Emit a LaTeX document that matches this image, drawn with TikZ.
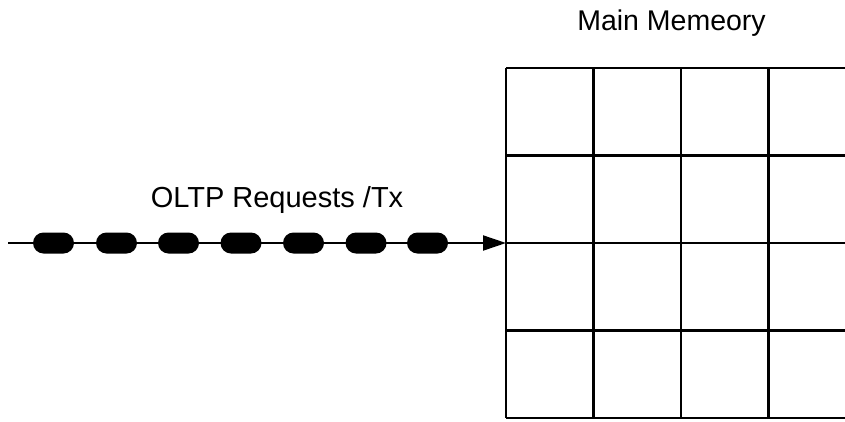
\documentclass[tikz,border=0pt]{standalone}
\usepackage{fontspec}
\setmainfont{Liberation Sans}
\usetikzlibrary{arrows.meta}
\begin{document}
\begin{tikzpicture}[x=1pt,y=-1pt,
  label text/.style={font=\fontsize{29}{34}\selectfont, inner sep=0pt, anchor=base},
  request/.style={fill=black, draw=none, minimum width=41pt, minimum height=21pt,
                  rounded corners=10.5pt, inner sep=0pt},
  flow/.style={line width=2pt, -{Triangle[length=23pt,width=15pt]}},
  cell line/.style={line width=2.7pt}]
  \useasboundingbox (0,0) rectangle (845,421);

  % main memory grid (right side runs off the page)
  \begin{scope}
    \clip (0,0) rectangle (845,421);
    \foreach \i in {0,...,4} {
      \draw[cell line] (506,68+87.5*\i) -- (860,68+87.5*\i);
      \draw[cell line] (506+87.5*\i,68) -- (506+87.5*\i,418);
    }
  \end{scope}
  \coordinate (mem) at (506,243);
  \node[label text, font=\fontsize{28.5}{34}\selectfont] (memtitle) at (671.5,30) {Main Memeory};

  % incoming request stream
  \coordinate (src) at (8,243);
  \foreach \k/\cx in {1/53.5,2/116.5,3/178.5,4/241,5/303.5,6/366,7/427.5}
    \node[request] (r\k) at (\cx,243) {};
  \draw[flow] (src) -- (mem);
  \node[label text] (reqlabel) at (277,207) {OLTP Requests /Tx};
\end{tikzpicture}
\end{document}
